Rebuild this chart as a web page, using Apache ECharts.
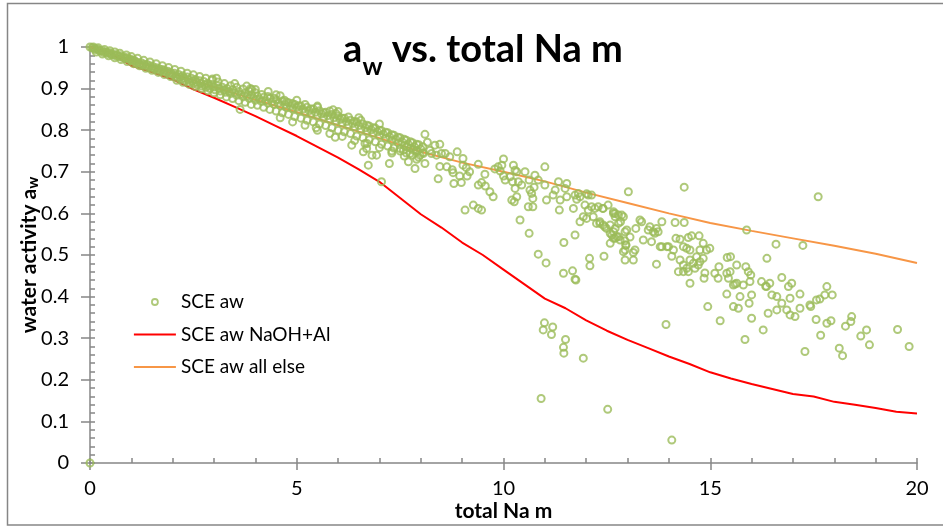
<!DOCTYPE html>
<html>
<head>
<meta charset="utf-8">
<title>aw vs. total Na m</title>
<script src="https://cdn.jsdelivr.net/npm/echarts@6/dist/echarts.min.js"></script>
<style>
  html, body { margin: 0; padding: 0; background: #fff; }
  #chart { width: 943px; height: 527px; }
</style>
</head>
<body>
<div id="chart"></div>
<script>
// SCE aw measured points: [total Na m, water activity]
const sceAw = [
  [0, 0], [0, 1.0], [0.05, 0.998], [0.1, 0.997], [0.12, 0.994], [0.18, 0.995], [0.22, 0.992], [0.25, 0.990],
  [0.3, 0.991], [0.33, 0.987], [0.38, 0.988], [0.42, 0.985], [0.45, 0.987], [0.5, 0.984], [0.52, 0.981],
  [0.58, 0.982], [0.62, 0.979], [0.65, 0.981], [0.7, 0.977], [0.74, 0.979], [0.78, 0.975], [0.82, 0.976],
  [0.85, 0.972], [0.9, 0.974], [0.93, 0.970], [0.97, 0.971], [1.0, 0.968], [1.03, 0.966], [1.06, 0.969],
  [1.1, 0.965], [1.12, 0.960], [1.16, 0.963], [1.2, 0.958], [1.24, 0.962], [1.28, 0.956], [1.3, 0.959],
  [1.35, 0.954], [1.38, 0.958], [1.42, 0.951], [1.45, 0.955], [1.5, 0.949], [1.52, 0.953], [1.56, 0.947],
  [1.6, 0.950], [1.63, 0.944], [1.67, 0.948], [1.7, 0.942], [1.74, 0.946], [1.78, 0.940], [1.8, 0.944],
  [1.85, 0.938], [1.88, 0.942], [1.92, 0.935], [1.95, 0.939], [2.0, 0.933],
  [2.04, 0.937], [2.08, 0.930], [2.1, 0.926], [2.14, 0.934], [2.18, 0.928], [2.2, 0.921], [2.24, 0.931],
  [2.28, 0.925], [2.3, 0.919], [2.35, 0.928], [2.38, 0.921], [2.4, 0.916], [2.45, 0.925], [2.48, 0.918],
  [2.5, 0.912], [2.55, 0.922], [2.58, 0.915], [2.6, 0.909], [2.65, 0.919], [2.68, 0.912], [2.7, 0.906],
  [2.75, 0.917], [2.78, 0.909], [2.8, 0.903], [2.85, 0.913], [2.88, 0.906], [2.9, 0.900], [2.96, 0.923],
  [3.06, 0.925], [2.95, 0.910], [3.0, 0.904], [3.02, 0.897], [3.08, 0.907], [3.12, 0.900], [3.15, 0.894],
  [3.2, 0.903], [3.24, 0.897], [3.28, 0.891], [3.32, 0.900], [3.36, 0.893], [3.4, 0.888], [3.45, 0.897],
  [3.5, 0.890],
  [3.55, 0.884], [3.6, 0.893], [3.63, 0.850], [3.65, 0.886], [3.7, 0.880], [3.75, 0.889], [3.79, 0.906],
  [3.8, 0.882], [3.85, 0.876], [3.88, 0.900], [3.91, 0.898], [3.9, 0.885], [3.95, 0.878], [4.0, 0.872],
  [4.05, 0.882], [4.1, 0.875], [4.15, 0.869], [4.2, 0.879], [4.25, 0.871], [4.31, 0.893], [4.3, 0.865],
  [4.35, 0.876], [4.4, 0.868], [4.45, 0.862], [4.5, 0.873], [4.55, 0.865], [4.6, 0.859], [4.65, 0.870],
  [4.7, 0.872], [4.72, 0.862], [4.75, 0.855], [4.8, 0.866], [4.85, 0.858], [4.9, 0.852], [4.95, 0.862],
  [5.0, 0.855], [5.05, 0.848], [5.1, 0.858], [5.15, 0.851], [5.2, 0.844], [5.25, 0.855], [5.3, 0.847],
  [5.35, 0.840], [5.4, 0.851], [5.45, 0.843], [5.47, 0.806], [5.5, 0.836],
  [5.55, 0.847], [5.6, 0.839], [5.65, 0.832], [5.7, 0.843], [5.75, 0.835], [5.8, 0.827], [5.85, 0.838],
  [5.88, 0.849], [5.9, 0.830], [5.93, 0.783], [5.95, 0.822], [6.0, 0.834], [6.05, 0.826], [6.1, 0.818],
  [6.15, 0.829], [6.2, 0.821], [6.25, 0.813], [6.3, 0.824], [6.33, 0.764], [6.35, 0.816], [6.4, 0.808],
  [6.45, 0.820], [6.5, 0.811], [6.55, 0.803], [6.6, 0.815], [6.61, 0.748], [6.65, 0.768], [6.66, 0.806],
  [6.69, 0.756], [6.7, 0.798], [6.73, 0.716], [6.75, 0.810], [6.8, 0.801], [6.82, 0.740], [6.85, 0.793],
  [6.9, 0.805], [6.93, 0.740], [6.95, 0.796], [7.0, 0.787], [7.05, 0.676], [7.05, 0.799], [7.1, 0.790],
  [7.15, 0.781], [7.2, 0.794], [7.24, 0.720], [7.25, 0.784], [7.3, 0.745], [7.3, 0.776], [7.35, 0.788],
  [7.4, 0.778], [7.45, 0.770], [7.5, 0.782], [7.5, 0.756], [7.55, 0.772], [7.58, 0.752], [7.6, 0.763],
  [7.65, 0.776], [7.66, 0.760], [7.7, 0.724], [7.7, 0.766], [7.74, 0.744], [7.75, 0.757], [7.8, 0.770],
  [7.82, 0.752], [7.86, 0.708], [7.85, 0.760], [7.9, 0.751], [7.9, 0.748], [7.95, 0.765], [7.98, 0.740],
  [8.0, 0.755], [8.05, 0.746], [8.06, 0.744], [8.1, 0.790], [8.1, 0.720], [8.16, 0.771], [8.22, 0.752],
  // upper edge of the dense band
  [0.08, 1.0], [0.2, 0.998], [0.35, 0.994], [0.48, 0.991], [0.6, 0.988], [0.72, 0.985], [0.88, 0.981],
  [1.0, 0.977], [1.15, 0.973], [1.3, 0.968], [1.45, 0.964], [1.6, 0.960], [1.75, 0.955], [1.9, 0.951],
  [2.05, 0.946], [2.2, 0.942], [2.35, 0.937], [2.5, 0.933], [2.65, 0.929], [2.8, 0.925], [2.95, 0.920],
  [3.1, 0.916], [3.25, 0.912], [3.4, 0.907], [3.5, 0.912], [3.55, 0.903], [3.7, 0.899], [3.85, 0.894],
  [4.0, 0.898], [4.0, 0.890], [4.15, 0.886], [4.3, 0.881], [4.45, 0.877], [4.5, 0.885], [4.6, 0.883],
  [4.75, 0.868], [4.9, 0.864], [5.0, 0.872], [5.05, 0.859], [5.2, 0.862], [5.35, 0.851], [5.5, 0.858],
  [5.5, 0.855], [5.65, 0.842], [5.8, 0.846], [5.95, 0.840], [6.0, 0.845], [6.1, 0.829], [6.25, 0.832],
  [6.4, 0.821], [6.5, 0.830], [6.55, 0.824], [6.7, 0.812], [6.85, 0.806], [7.0, 0.815], [7.0, 0.800],
  [7.15, 0.795], [7.3, 0.789], [7.45, 0.783], [7.6, 0.778], [7.75, 0.772], [7.9, 0.766], [8.05, 0.760],
  // lower edge of the dense band
  [0.15, 0.988], [0.3, 0.983], [0.45, 0.979], [0.6, 0.974], [0.75, 0.970], [0.9, 0.965], [1.05, 0.960],
  [1.2, 0.955], [1.35, 0.949], [1.5, 0.944], [1.65, 0.939], [1.8, 0.934], [1.95, 0.929], [2.1, 0.920],
  [2.25, 0.915], [2.4, 0.910], [2.55, 0.905], [2.7, 0.900], [2.85, 0.895], [3.0, 0.890], [3.15, 0.885],
  [3.3, 0.880], [3.45, 0.876], [3.6, 0.871], [3.75, 0.867], [3.9, 0.862], [4.05, 0.860], [4.2, 0.855],
  [4.35, 0.850], [4.5, 0.846], [4.6, 0.830], [4.65, 0.842], [4.8, 0.838], [4.9, 0.820], [4.95, 0.833],
  [5.1, 0.829], [5.2, 0.812], [5.25, 0.824], [5.4, 0.820], [5.5, 0.800], [5.55, 0.815], [5.7, 0.811],
  [5.8, 0.792], [5.85, 0.806], [6.0, 0.800], [6.1, 0.785], [6.15, 0.796], [6.3, 0.792], [6.4, 0.775],
  [6.45, 0.786], [6.6, 0.782], [6.7, 0.768], [6.75, 0.777], [6.9, 0.772], [7.0, 0.758], [7.05, 0.766],
  [7.2, 0.762], [7.3, 0.750], [7.35, 0.757], [7.5, 0.750], [7.6, 0.738], [7.65, 0.745], [7.8, 0.740],
  [7.9, 0.730], [7.95, 0.735],
  // scattered region
  [8.26, 0.744], [8.34, 0.764], [8.38, 0.740], [8.42, 0.683], [8.46, 0.766], [8.46, 0.713], [8.5, 0.744],
  [8.59, 0.744], [8.63, 0.712], [8.7, 0.736], [8.76, 0.705], [8.78, 0.698], [8.80, 0.672], [8.88, 0.748],
  [8.94, 0.690], [8.98, 0.674], [9.02, 0.732], [9.02, 0.716], [9.07, 0.608], [9.1, 0.710], [9.12, 0.690],
  [9.18, 0.700], [9.27, 0.620], [9.39, 0.612], [9.47, 0.608], [9.39, 0.718], [9.39, 0.668], [9.47, 0.674],
  [9.55, 0.694], [9.56, 0.666], [9.67, 0.652], [9.75, 0.640], [9.79, 0.707], [9.87, 0.712], [9.92, 0.702],
  [9.96, 0.716], [10.0, 0.731], [10.0, 0.690], [10.04, 0.680], [10.16, 0.688], [10.22, 0.676], [10.24, 0.716],
  [10.28, 0.704], [10.32, 0.700], [10.28, 0.660], [10.32, 0.640], [10.20, 0.632], [10.26, 0.628],
  [10.36, 0.676], [10.40, 0.584], [10.44, 0.668], [10.52, 0.700], [10.62, 0.680], [10.62, 0.552],
  [10.64, 0.656], [10.68, 0.648], [10.74, 0.663], [10.71, 0.636], [10.60, 0.616], [10.71, 0.616],
  [10.76, 0.692], [10.84, 0.680], [10.84, 0.502], [11.0, 0.712], [11.0, 0.668], [11.03, 0.481],
  [11.04, 0.632], [11.2, 0.644], [11.25, 0.656], [11.33, 0.676], [11.37, 0.632], [11.35, 0.608],
  [11.45, 0.456], [11.46, 0.530], [11.49, 0.660], [11.53, 0.672], [11.53, 0.640], [11.67, 0.462],
  [11.73, 0.442], [11.73, 0.548], [11.69, 0.612], [11.73, 0.644], [11.77, 0.634], [11.81, 0.648],
  [11.85, 0.640], [11.85, 0.580], [11.93, 0.592], [12.01, 0.588], [12.17, 0.592], [11.97, 0.620],
  [12.05, 0.608], [12.13, 0.616], [12.21, 0.612], [12.29, 0.616], [12.41, 0.612], [12.01, 0.647],
  [12.05, 0.644], [12.13, 0.644], [12.08, 0.492], [12.09, 0.474], [12.25, 0.576], [12.33, 0.580],
  [12.41, 0.572], [12.49, 0.564], [12.58, 0.528], [12.62, 0.548], [12.66, 0.556], [12.70, 0.540],
  [12.74, 0.544], [12.82, 0.536], [12.94, 0.556], [12.96, 0.524], [12.90, 0.508], [12.94, 0.488],
  [12.66, 0.600], [12.70, 0.592], [12.78, 0.596], [12.86, 0.596], [12.40, 0.612], [12.53, 0.620],
  [12.66, 0.604], [12.70, 0.600], [12.90, 0.592], [12.33, 0.576], [12.45, 0.568], [12.58, 0.572],
  [12.70, 0.564], [12.78, 0.576], [12.83, 0.580], [12.58, 0.552], [12.66, 0.540], [12.78, 0.544],
  [12.98, 0.560], [13.06, 0.543], [13.2, 0.564], [13.30, 0.584], [13.34, 0.580], [12.94, 0.534],
  [12.96, 0.524], [12.94, 0.512], [13.14, 0.506], [13.18, 0.512], [12.43, 0.497], [13.14, 0.488],
  [13.02, 0.652], [13.38, 0.536], [13.50, 0.560], [13.54, 0.568], [13.62, 0.556], [13.66, 0.552],
  [13.70, 0.564], [13.74, 0.556], [13.83, 0.580], [13.79, 0.520], [13.83, 0.520], [13.58, 0.532],
  [13.70, 0.478], [13.95, 0.520], [13.99, 0.520], [14.07, 0.497], [14.11, 0.512], [14.15, 0.578],
  [14.37, 0.578], [14.17, 0.540], [14.27, 0.538], [14.35, 0.520], [14.47, 0.542], [14.55, 0.546],
  [14.73, 0.546], [14.43, 0.516], [14.51, 0.512], [14.75, 0.512], [14.83, 0.528], [14.91, 0.512],
  [14.99, 0.516], [14.27, 0.488], [14.35, 0.476], [14.43, 0.468], [14.51, 0.488], [14.59, 0.480],
  [14.67, 0.496], [14.75, 0.484], [14.83, 0.492], [14.63, 0.468], [14.71, 0.476], [14.23, 0.460],
  [14.35, 0.460], [14.47, 0.460], [14.51, 0.432], [14.87, 0.457], [14.85, 0.444], [14.94, 0.376],
  [14.37, 0.663], [15.11, 0.456], [15.19, 0.444], [15.21, 0.472], [15.40, 0.456], [15.44, 0.444],
  [15.48, 0.460], [15.49, 0.496], [15.41, 0.494], [15.64, 0.476], [15.40, 0.406], [15.56, 0.428],
  [15.60, 0.430], [15.64, 0.432], [15.72, 0.400], [15.80, 0.428], [15.86, 0.472], [15.92, 0.460],
  [15.98, 0.452], [15.96, 0.436], [15.56, 0.376], [15.68, 0.372], [15.94, 0.384], [16.0, 0.404],
  [16.0, 0.348], [15.84, 0.297], [15.24, 0.342], [15.88, 0.560], [16.24, 0.436], [16.34, 0.425],
  [16.36, 0.424], [16.44, 0.432], [16.49, 0.404], [16.61, 0.400], [16.40, 0.360], [16.28, 0.320],
  [16.37, 0.492], [16.59, 0.526], [16.61, 0.368], [16.73, 0.384], [16.85, 0.368], [16.93, 0.356],
  [17.05, 0.352], [17.17, 0.372], [16.73, 0.446], [16.89, 0.424], [16.97, 0.432], [16.93, 0.396],
  [17.17, 0.406], [17.24, 0.523], [17.29, 0.268], [17.41, 0.380], [17.43, 0.376], [17.56, 0.345],
  [17.57, 0.392], [17.65, 0.394], [17.77, 0.404], [17.82, 0.424], [17.95, 0.404], [17.61, 0.640],
  [17.67, 0.307], [17.82, 0.336], [17.92, 0.342], [18.12, 0.276], [18.2, 0.258], [18.27, 0.329],
  [18.40, 0.340], [18.42, 0.352], [18.64, 0.305], [18.78, 0.320], [18.85, 0.284], [19.53, 0.321],
  [19.81, 0.280],
  [10.99, 0.337], [10.96, 0.320], [11.19, 0.327], [11.16, 0.309], [11.5, 0.297], [11.45, 0.278],
  [11.46, 0.264], [11.93, 0.252], [10.91, 0.155], [12.52, 0.129], [14.07, 0.055], [13.93, 0.333],
  [11.75, 0.440]
];

// model curves, x values in total Na m
const naohAlX = [0, 0.5, 1, 1.5, 2, 2.5, 3, 3.5, 4, 4.5, 5, 5.5, 6, 6.5, 7, 7.5, 8, 8.5, 9, 9.5, 10,
  10.5, 11, 11.5, 12, 12.5, 13, 13.5, 14, 14.5, 15, 15.5, 16, 16.5, 17, 17.5, 18, 18.5, 19, 19.5, 20];
const naohAlAw = [1.0, 0.985, 0.955, 0.94, 0.922, 0.898, 0.878, 0.856, 0.834, 0.81, 0.786, 0.76, 0.734,
  0.706, 0.676, 0.637, 0.598, 0.566, 0.53, 0.5, 0.465, 0.43, 0.395, 0.372, 0.343, 0.318, 0.296, 0.276,
  0.256, 0.238, 0.218, 0.203, 0.19, 0.178, 0.166, 0.16, 0.147, 0.14, 0.132, 0.123, 0.119];

const allElseX = [0, 1, 2, 3, 4, 5, 6, 7, 8, 9, 10, 11, 12, 13, 14, 15, 16, 17, 18, 19, 20];
const allElseAw = [1.0, 0.968, 0.936, 0.904, 0.873, 0.843, 0.812, 0.781, 0.748, 0.722, 0.700, 0.677,
  0.650, 0.625, 0.600, 0.577, 0.558, 0.540, 0.522, 0.503, 0.481];

const seriesNames = ['SCE aw', 'SCE aw NaOH+Al', 'SCE aw all else'];

const FONT = 'Lato';
const AXIS_GRAY = '#868686';
const GREEN = '#9BBB59';
const RED = '#FF0000';
const ORANGE = '#F79646';

const chart = echarts.init(document.getElementById('chart'), null, { renderer: 'canvas' });

const zip = (xs, ys) => xs.map((x, i) => [x, ys[i]]);

// legend icons drawn in a 42x14 box
const LINE_ICON = 'path://M0,0M42,14M0,6h42v2h-42z';
const DOT_ICON = 'path://M0,0M42,14M18,7a3,3 0 1,0 6,0a3,3 0 1,0 -6,0z';

const option = {
  backgroundColor: '#fff',
  animation: false,
  grid: { left: 90, right: 26, top: 47, bottom: 64 },
  graphic: [
    {
      type: 'rect',
      shape: { x: 7.5, y: 3.5, width: 960, height: 521.5 },
      style: { fill: 'none', stroke: AXIS_GRAY, lineWidth: 1.5 },
      silent: true
    },
    {
      type: 'text',
      x: 483,
      y: 50,
      style: {
        text: '{m|a}{s|w}{m| vs. total Na m}',
        align: 'center',
        verticalAlign: 'middle',
        fill: '#000',
        rich: {
          m: { fontFamily: FONT, fontWeight: 'bold', fontSize: 38, lineHeight: 58, verticalAlign: 'middle', fill: '#000' },
          s: { fontFamily: FONT, fontWeight: 'bold', fontSize: 25, lineHeight: 25, verticalAlign: 'bottom', fill: '#000' }
        }
      }
    }
  ],
  legend: {
    left: 133,
    top: 292,
    padding: 0,
    orient: 'vertical',
    itemWidth: 42,
    itemHeight: 14,
    itemGap: 12.5,
    textStyle: { fontFamily: FONT, fontSize: 19, color: '#000', lineHeight: 20 },
    data: [
      { name: seriesNames[0], icon: DOT_ICON, itemStyle: { color: '#fff', borderColor: GREEN, borderWidth: 1.8 } },
      { name: seriesNames[1], icon: LINE_ICON, itemStyle: { color: RED, borderWidth: 0 } },
      { name: seriesNames[2], icon: LINE_ICON, itemStyle: { color: ORANGE, borderWidth: 0 } }
    ]
  },
  xAxis: [
    {
      type: 'value',
      min: 0,
      max: 20,
      interval: 5,
      position: 'bottom',
      name: 'total Na m',
      nameLocation: 'middle',
      nameGap: 38,
      nameMoveOverlap: false,
      nameTextStyle: { fontFamily: FONT, fontWeight: 'bold', fontSize: 21, color: '#000' },
      axisLine: { show: true, onZero: false, lineStyle: { color: AXIS_GRAY, width: 1.5 } },
      axisTick: { show: true, inside: false, length: 7, lineStyle: { color: AXIS_GRAY, width: 1.5 } },
      axisLabel: { fontFamily: FONT, fontSize: 20, color: '#000', margin: 16 },
      splitLine: { show: false }
    },
    {
      // inner ticks every 1 m
      type: 'value',
      min: 0,
      max: 20,
      interval: 1,
      position: 'bottom',
      axisLine: { show: false },
      axisTick: { show: true, inside: true, length: 5, lineStyle: { color: AXIS_GRAY, width: 1.5 } },
      axisLabel: { show: false },
      splitLine: { show: false }
    }
  ],
  yAxis: [
    {
      type: 'value',
      min: 0,
      max: 1,
      interval: 0.1,
      position: 'left',
      name: 'water activity a{s|w}',
      nameLocation: 'middle',
      nameGap: 49,
      nameMoveOverlap: false,
      nameTextStyle: {
        fontFamily: FONT, fontWeight: 'bold', fontSize: 21, color: '#000', lineHeight: 24,
        rich: {
          s: { fontFamily: FONT, fontWeight: 'bold', fontSize: 15, lineHeight: 15, verticalAlign: 'bottom', color: '#000' }
        }
      },
      axisLine: { show: true, onZero: false, lineStyle: { color: AXIS_GRAY, width: 1.5 } },
      axisTick: { show: true, inside: false, length: 9, lineStyle: { color: AXIS_GRAY, width: 1.5 } },
      axisLabel: { fontFamily: FONT, fontSize: 20, color: '#000', margin: 21 },
      splitLine: { show: false }
    },
    {
      // inner ticks every 0.02
      type: 'value',
      min: 0,
      max: 1,
      interval: 0.02,
      position: 'left',
      axisLine: { show: false },
      axisTick: { show: true, inside: true, length: 5, lineStyle: { color: AXIS_GRAY, width: 1.5 } },
      axisLabel: { show: false },
      splitLine: { show: false }
    }
  ],
  series: [
    {
      name: seriesNames[0],
      type: 'scatter',
      xAxisIndex: 0,
      yAxisIndex: 0,
      symbol: 'circle',
      symbolSize: 7,
      z: 4,
      itemStyle: { color: 'rgba(255,255,255,0)', borderColor: GREEN, borderWidth: 2 },
      emphasis: { disabled: true },
      data: sceAw
    },
    {
      name: seriesNames[1],
      type: 'line',
      xAxisIndex: 0,
      yAxisIndex: 0,
      symbol: 'none',
      z: 2,
      lineStyle: { color: RED, width: 2 },
      itemStyle: { color: RED },
      data: zip(naohAlX, naohAlAw)
    },
    {
      name: seriesNames[2],
      type: 'line',
      xAxisIndex: 0,
      yAxisIndex: 0,
      symbol: 'none',
      z: 2,
      lineStyle: { color: ORANGE, width: 2 },
      itemStyle: { color: ORANGE },
      data: zip(allElseX, allElseAw)
    }
  ]
};

chart.setOption(option);
</script>
</body>
</html>
